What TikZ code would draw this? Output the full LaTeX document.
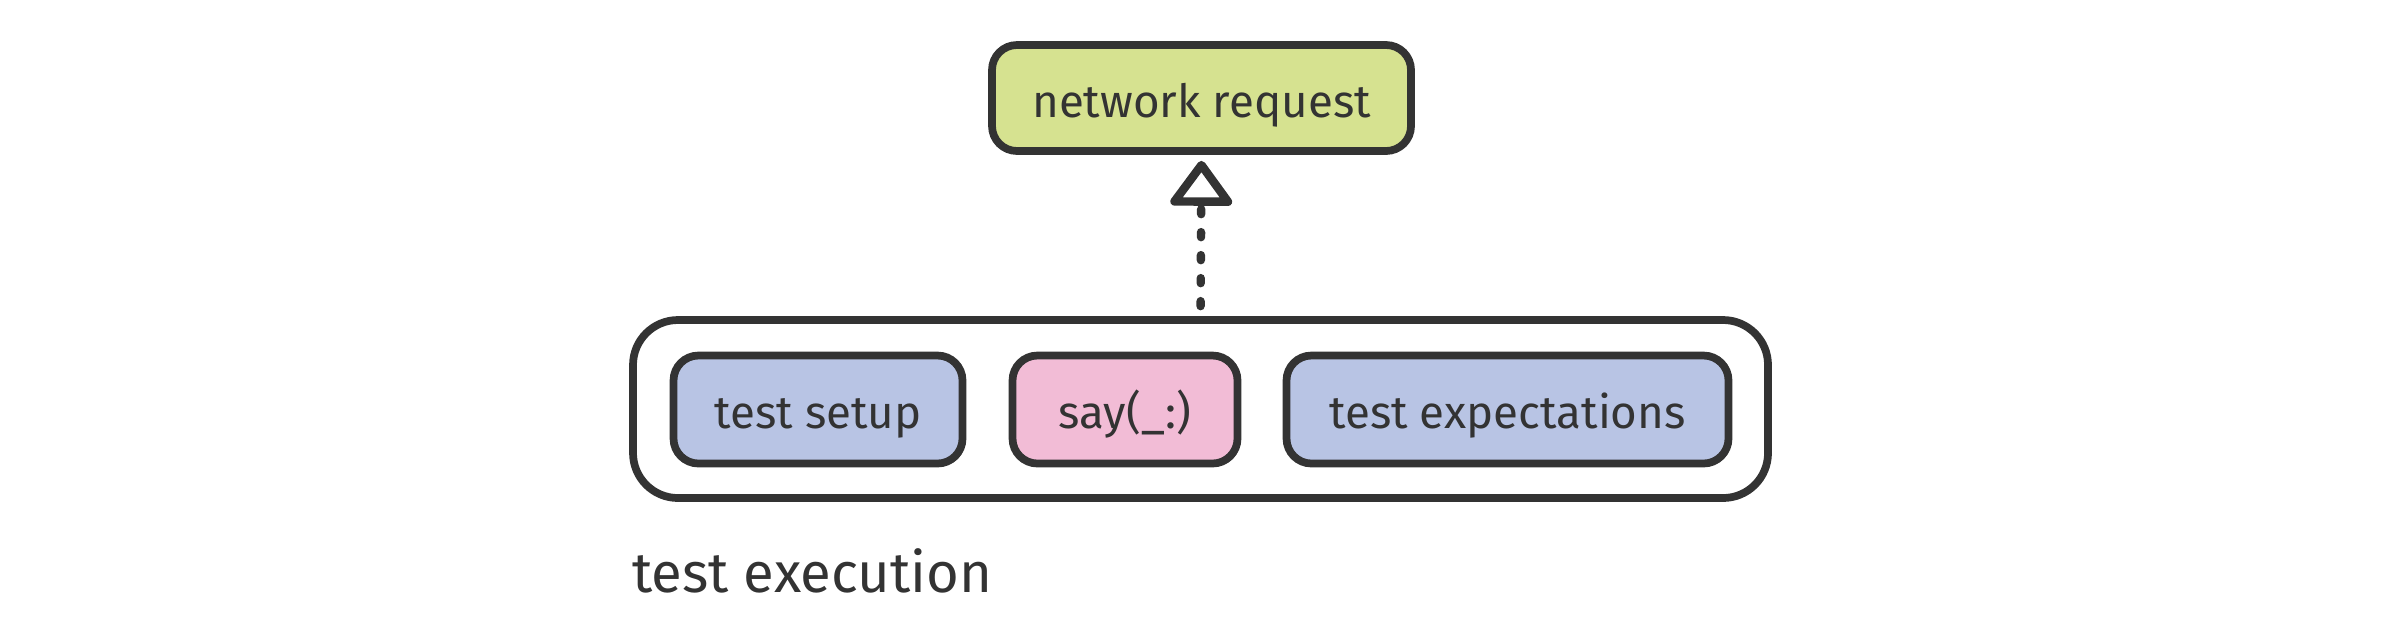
\documentclass[tikz,border=0pt]{standalone}
\usepackage{fontspec}
\setmainfont{Fira Sans}
\usetikzlibrary{arrows.meta}
\definecolor{ink}{HTML}{333333}
\definecolor{netfill}{HTML}{D6E290}
\definecolor{stepfill}{HTML}{B8C4E4}
\definecolor{sayfill}{HTML}{F2BCD6}
\begin{document}
\begin{tikzpicture}[
    every node/.style={font=\fontsize{13}{15}\selectfont, text=ink},
    box/.style={draw=ink, line width=2.2pt, rounded corners=0.25cm, anchor=center, minimum height=1.08cm, text height=0.40cm, text depth=0.02cm},
    group/.style={draw=ink, line width=2.2pt, rounded corners=0.45cm, minimum width=11.35cm, minimum height=1.78cm},
    arr/.style={-{Triangle[open, width=0.68cm, length=0.48cm, round]}, draw=ink, line width=2.4pt, line cap=round, dash pattern=on 0.05cm off 0.18cm}
]
\useasboundingbox (0,0) rectangle (24,-6.4);

% request on top
\node[box, fill=netfill, minimum width=4.19cm, minimum height=1.06cm] (net) at (12.015,-0.98) {network request};

% test execution group
\node[group] (exec) at (12.005,-4.09) {};
\node[box, fill=stepfill, minimum width=2.89cm] (setup) at (8.18,-4.095) {test setup};
\node[box, fill=sayfill, minimum width=2.25cm] (say) at (11.25,-4.095) {say(\_:)};
\node[box, fill=stepfill, minimum width=4.42cm] (expect) at (15.075,-4.095) {test expectations};
\node[anchor=base west, font=\fontsize{16}{19}\selectfont] (execlabel) at (6.20,-5.92) {test execution};

% Arrow
\draw[arr, shorten <=0.1cm, shorten >=0.06cm] (exec.north) -- (net.south);
\end{tikzpicture}
\end{document}
